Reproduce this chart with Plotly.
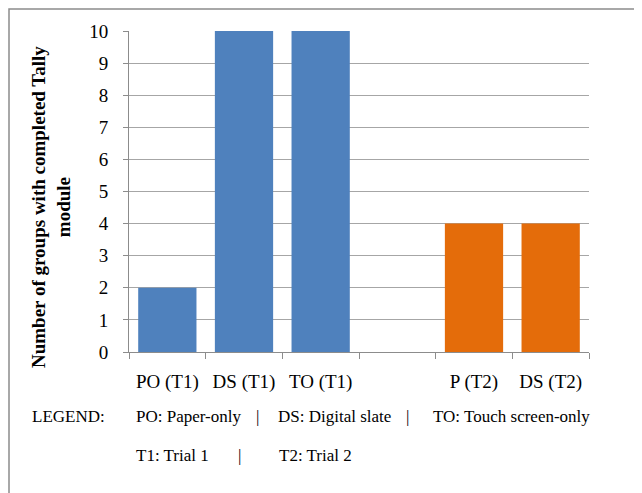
import plotly.graph_objects as go

categories = ["PO (T1)", "DS (T1)", "TO (T1)", " ", "P (T2)", "DS (T2)"]
values = [2, 10, 10, None, 4, 4]
bar_colors = ["#4F81BD", "#4F81BD", "#4F81BD", "#4F81BD", "#E46C0A", "#E46C0A"]
y_ticks = list(range(0, 11))
y_title = "Number of groups with completed Tally<br>module"
legend_line1 = [("LEGEND:", 30), ("PO: Paper-only", 134), ("|", 254), ("DS: Digital slate", 276), ("|", 404), ("TO: Touch screen-only", 431)]
legend_line2 = [("T1: Trial 1", 134), ("|", 236), ("T2: Trial 2", 277)]

OFF = 8  # page body margin
W, H = 642 - OFF, 493 - OFF
L, R, T, B = 129, 589, 31, 352  # plot area in page pixels

def px(x):
    return (x - L) / (R - L)

def py(y):
    return (B - y) / (B - T)

FAM = "Liberation Serif"
tick_font = dict(family=FAM, size=19, color="#000000")
text_font = dict(family=FAM, size=17, color="#000000")

fig = go.Figure(go.Bar(x=categories, y=values, marker=dict(color=bar_colors, line=dict(width=0)), showlegend=False))

annotations = []
for text, x in legend_line1:
    annotations.append(dict(text=text, x=px(x), y=py(416), xref="paper", yref="paper",
                            xanchor="left", yanchor="middle", showarrow=False, font=text_font))
for text, x in legend_line2:
    annotations.append(dict(text=text, x=px(x), y=py(455), xref="paper", yref="paper",
                            xanchor="left", yanchor="middle", showarrow=False, font=text_font))
annotations.append(dict(text="<b>" + y_title + "</b>", x=px(51), y=py(207), xref="paper", yref="paper",
                        xanchor="center", yanchor="middle", textangle=-90, showarrow=False,
                        font=dict(family=FAM, size=19, color="#000000")))

fig.update_layout(
    width=W, height=H,
    margin=dict(l=L - OFF, r=W - (R - OFF), t=T - OFF, b=H - (B - OFF), pad=0),
    paper_bgcolor="white", plot_bgcolor="white",
    bargap=0.24,
    font=text_font,
    annotations=annotations,
    shapes=[dict(type="rect", xref="paper", yref="paper", x0=px(9), x1=px(700), y0=py(560), y1=py(9),
                 line=dict(color="#8C8C8C", width=1.5), fillcolor="rgba(0,0,0,0)", layer="below")],
)
fig.update_xaxes(type="category", showline=True, linecolor="#8C8C8C", linewidth=1,
                 ticks="outside", ticklen=6, tickcolor="#8C8C8C", tickson="boundaries",
                 showgrid=False, tickfont=tick_font, ticklabelstandoff=12)
fig.update_yaxes(range=[0, 10], tickvals=y_ticks, showline=True, linecolor="#8C8C8C", linewidth=1,
                 ticks="outside", ticklen=5, tickcolor="#8C8C8C", gridcolor="#A6A6A6", gridwidth=1,
                 zeroline=False, tickfont=tick_font, ticklabelstandoff=11)

fig.write_html("out.html")
